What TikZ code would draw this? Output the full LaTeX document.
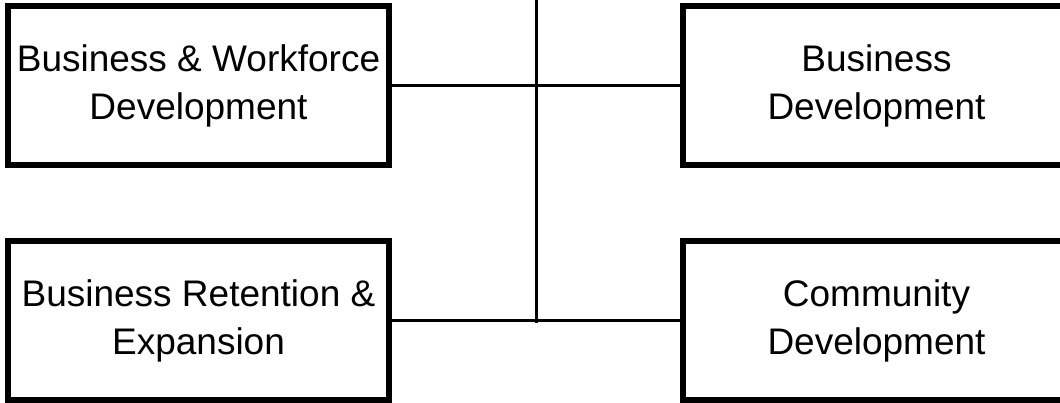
\documentclass[tikz,border=0pt]{standalone}
\usepackage{fontspec}
\setmainfont{Liberation Sans}

\begin{document}
\begin{tikzpicture}[x=1pt, y=-1pt,
  unitBox/.style={draw, line width=6pt, minimum width=381pt, minimum height=159pt,
    inner sep=0pt, align=center, font=\fontsize{37}{48}\selectfont},
  unitLink/.style={line width=3pt}]
\useasboundingbox (0,0) rectangle (1060,402);
% units
\node[unitBox] (bwd) at (198.5,85.5) {Business \& Workforce\\Development};
\node[unitBox, minimum width=387pt] (bd) at (876.5,85.5) {Business\\Development};
\node[unitBox] (bre) at (198.5,320.5) {Business Retention \&\\Expansion};
\node[unitBox, minimum width=387pt] (cd) at (876.5,320.5) {Community\\Development};
% trunk
\coordinate (trunk) at (536,0);
\draw[unitLink] (trunk) -- (trunk |- bre.east) -- ++(0,2);
% branches
\draw[unitLink] (bwd.east) -- (bd.west);
\draw[unitLink] (bre.east) -- (cd.west);
\end{tikzpicture}
\end{document}
